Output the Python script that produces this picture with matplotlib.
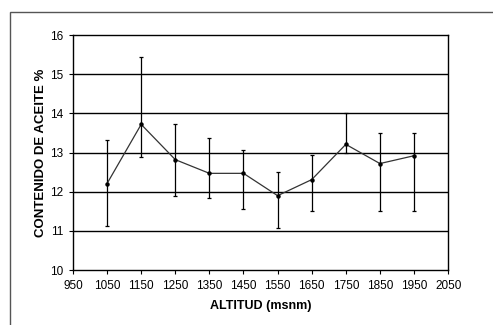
import matplotlib
matplotlib.use("Agg")
import matplotlib.pyplot as plt
from matplotlib.patches import Rectangle

plt.rcParams['font.family'] = ['Liberation Sans', 'DejaVu Sans']

altitud = [1050, 1150, 1250, 1350, 1450, 1550, 1650, 1750, 1850, 1950]
aceite = [12.21, 13.72, 12.82, 12.47, 12.47, 11.90, 12.31, 13.21, 12.72, 12.92]
aceite_max = [13.31, 15.45, 13.74, 13.36, 13.07, 12.51, 12.93, 14.02, 13.49, 13.49]
aceite_min = [11.12, 12.88, 11.89, 11.83, 11.57, 11.07, 11.51, 13.00, 11.51, 11.51]
xticks = [950, 1050, 1150, 1250, 1350, 1450, 1550, 1650, 1750, 1850, 1950, 2050]
yticks = [10, 11, 12, 13, 14, 15, 16]

fig = plt.figure(figsize=(4.93, 3.25), dpi=100)
ax = fig.add_axes([0.148, 0.169, 0.761, 0.723])

# outer frame
fig.patches.append(Rectangle((10/493, -0.1), 1.2, 1 - 12/325 + 0.1,
                             transform=fig.transFigure, fill=False,
                             edgecolor='#555555', linewidth=1.0))

for y in yticks[1:-1]:
    ax.axhline(y, color='black', linewidth=1.0, zorder=1)

lower = [m - lo for m, lo in zip(aceite, aceite_min)]
upper = [hi - m for m, hi in zip(aceite, aceite_max)]
ax.errorbar(altitud, aceite, yerr=[lower, upper], color='#333333',
            linewidth=0.9, ecolor='black', elinewidth=0.9, capsize=1.5,
            capthick=0.9, marker='o', markersize=2.2, markerfacecolor='black',
            markeredgecolor='black', zorder=3)

ax.set_xlim(950, 2050)
ax.set_ylim(10, 16)
ax.set_xticks(xticks)
ax.set_yticks(yticks)
ax.tick_params(labelsize=8.5, length=3, width=0.8, direction='out', pad=4)
for s in ax.spines.values():
    s.set_linewidth(1.0)
    s.set_color('black')

ax.set_xlabel('ALTITUD (msnm)', fontsize=9, fontweight='bold', labelpad=6)
ax.set_ylabel('CONTENIDO DE ACEITE %', fontsize=9.5, fontweight='bold', labelpad=2)

fig.savefig('out.png', dpi=100)
